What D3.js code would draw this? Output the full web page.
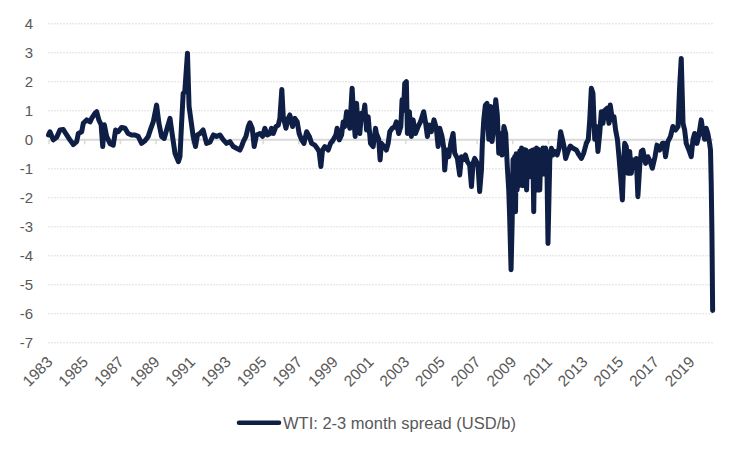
<!DOCTYPE html>
<html lang="en">
<head>
    <meta charset="UTF-8">
    <title>WTI 2-3 month spread</title>
    <script src="https://d3js.org/d3.v7.min.js"></script>
    <style>
        body {
            margin: 0;
            background: #fff;
        }
        svg text {
            font-family: "Liberation Sans", Arial, sans-serif;
            fill: #595959;
        }
    </style>
</head>
<body>
    <div id="chart"></div>
    <script>

        // dates as decimal years, values in USD/b
        var dates = [
            1983.00, 1983.08, 1983.27, 1983.46, 1983.64, 1983.83, 1984.02, 1984.20, 1984.39, 1984.58,
            1984.67, 1984.86, 1984.95, 1985.14, 1985.33, 1985.42, 1985.61, 1985.70, 1985.82, 1985.95,
            1986.04, 1986.13, 1986.26, 1986.45, 1986.63, 1986.76, 1986.91, 1987.10, 1987.29, 1987.46,
            1987.65, 1987.85, 1988.03, 1988.22, 1988.41, 1988.59, 1988.74, 1988.87, 1989.06, 1989.19,
            1989.34, 1989.49, 1989.62, 1989.81, 1989.94, 1990.09, 1990.28, 1990.37, 1990.46, 1990.55,
            1990.64, 1990.79, 1990.88, 1991.01, 1991.11, 1991.24, 1991.35, 1991.49, 1991.67, 1991.86,
            1992.05, 1992.24, 1992.42, 1992.61, 1992.80, 1992.98, 1993.17, 1993.36, 1993.54, 1993.73,
            1993.82, 1993.92, 1994.07, 1994.20, 1994.29, 1994.42, 1994.53, 1994.66, 1994.85, 1995.00,
            1995.13, 1995.26, 1995.41, 1995.50, 1995.60, 1995.75, 1995.88, 1995.97, 1996.08, 1996.16,
            1996.31, 1996.44, 1996.53, 1996.68, 1996.81, 1996.94, 1997.05, 1997.19, 1997.32, 1997.47,
            1997.62, 1997.75, 1997.93, 1998.06, 1998.17, 1998.27, 1998.36, 1998.49, 1998.68, 1998.81,
            1998.96, 1999.11, 1999.18, 1999.30, 1999.43, 1999.52, 1999.61, 1999.71, 1999.80, 1999.89,
            2000.02, 2000.12, 2000.19, 2000.27, 2000.36, 2000.45, 2000.55, 2000.64, 2000.73, 2000.83,
            2000.92, 2001.05, 2001.20, 2001.33, 2001.38, 2001.51, 2001.59, 2001.66, 2001.81, 2001.94,
            2002.04, 2002.13, 2002.26, 2002.41, 2002.50, 2002.63, 2002.75, 2002.82, 2002.90, 2002.97,
            2003.06, 2003.12, 2003.23, 2003.34, 2003.44, 2003.57, 2003.72, 2003.85, 2004.03, 2004.13,
            2004.24, 2004.33, 2004.46, 2004.61, 2004.74, 2004.84, 2004.93, 2005.06, 2005.16, 2005.21,
            2005.31, 2005.44, 2005.55, 2005.68, 2005.77, 2005.92, 2006.05, 2006.15, 2006.24, 2006.37,
            2006.48, 2006.61, 2006.71, 2006.80, 2006.89, 2006.99, 2007.08, 2007.17, 2007.27, 2007.32,
            2007.40, 2007.49, 2007.58, 2007.68, 2007.79, 2007.86, 2007.98, 2008.07, 2008.16, 2008.24,
            2008.33, 2008.42, 2008.53, 2008.63, 2008.72, 2008.80, 2008.85, 2008.93, 2008.99, 2009.04,
            2009.08, 2009.13, 2009.18, 2009.22, 2009.27, 2009.32, 2009.37, 2009.42, 2009.47, 2009.52,
            2009.58, 2009.64, 2009.70, 2009.76, 2009.80, 2009.86, 2009.92, 2009.98, 2010.04, 2010.10,
            2010.15, 2010.20, 2010.25, 2010.30, 2010.36, 2010.42, 2010.48, 2010.54, 2010.60, 2010.66,
            2010.72, 2010.80, 2010.86, 2010.93,
            2011.00, 2011.10, 2011.19, 2011.28, 2011.38, 2011.51, 2011.62, 2011.71, 2011.81, 2011.90,
            2011.99, 2012.12, 2012.25, 2012.40, 2012.59, 2012.74, 2012.87, 2013.00, 2013.15, 2013.26,
            2013.34, 2013.43, 2013.52, 2013.62, 2013.71, 2013.80, 2013.90, 2013.99, 2014.08, 2014.18,
            2014.31, 2014.42, 2014.49, 2014.61, 2014.70, 2014.79, 2014.89, 2014.98, 2015.07, 2015.17,
            2015.24, 2015.30, 2015.39, 2015.48, 2015.58, 2015.67, 2015.76, 2015.86, 2015.95, 2016.04,
            2016.14, 2016.23, 2016.32, 2016.47, 2016.60, 2016.73, 2016.85, 2017.00, 2017.11, 2017.26,
            2017.41, 2017.50, 2017.59, 2017.72, 2017.87, 2018.00, 2018.15, 2018.29, 2018.38, 2018.47,
            2018.57, 2018.66, 2018.75, 2018.90, 2019.03, 2019.13, 2019.22, 2019.35, 2019.46, 2019.59,
            2019.69, 2019.78, 2019.87, 2019.96, 2020.06, 2020.11, 2020.15, 2020.19, 2020.23
        ];

        var spread = [
            0.15, 0.26, -0.02, 0.07, 0.32, 0.34, 0.15, -0.02, -0.18, -0.08,
            0.2, 0.26, 0.55, 0.67, 0.6, 0.72, 0.9, 0.95, 0.67, 0.5,
            -0.25, 0.5, 0.1, -0.15, -0.2, 0.32, 0.26, 0.41, 0.38, 0.2,
            0.15, 0.15, 0.1, -0.14, -0.05, 0.1, 0.38, 0.6, 1.18, 0.55,
            0.1, 0.03, 0.32, 0.72, 0.15, -0.48, -0.77, -0.6, 0.55, 1.58,
            1.64, 2.97, 1.13, 0.55, 0.1, -0.25, 0.15, 0.2, 0.32, -0.14,
            -0.1, 0.15, 0.1, 0.15, -0.02, -0.14, -0.08, -0.25, -0.31, -0.37,
            -0.25, -0.08, 0.1, 0.44, 0.57, 0.38, -0.25, 0.15, 0.2, 0.1,
            0.38, 0.15, 0.2, 0.38, 0.2, 0.44, 0.49, 0.72, 1.72, 0.78,
            0.38, 0.72, 0.84, 0.44, 0.72, 0.61, 0.2, -0.02, -0.14, 0.26,
            0.1, -0.14, -0.2, -0.31, -0.42, -0.94, -0.37, -0.25, -0.37, -0.14,
            -0.02, 0.15, 0.38, -0.02, 0.15, 0.6, 0.44, 0.95, 0.84, 0.38,
            1.76, 0.67, 0.1, 1.24, 0.38, 0.2, 0.9, 0.78, 1.18, 0.32,
            0.78, -0.14, -0.25, 0.38, 0.2, 0, -0.71, -0.14, -0.25, -0.37,
            -0.14, 0.26, 0.38, 0.44, 0.6, 0.2, 0.44, 1.36, 1.0, 1.93,
            1.99, 0.2, 0.95, 0.1, 0.67, 0.2, 0.44, 0.6, 0.95, 0.6,
            0.1, 0.49, 0.26, 0.67, 0.38, -0.25, 0.38, 0.1, -0.31, -1.06,
            -0.37, -0.6, -0.14, 0.2, -0.48, -0.66, -1.23, -0.6, -0.71, -0.54,
            -0.77, -0.89, -1.63, -0.83, -0.66, -0.77, -0.94, -1.8, -1.06, -0.14,
            0.67, 1.18, 1.24, 0, 1.13, -0.08, 0.44, 1.36, 0.84, -0.48,
            0.2, -0.54, 0.44, 0.2, -0.94, -1.75, -2.67, -4.5, -2.9, -0.7,
            -2.2, -0.6, -2.5, -0.5, -1.75, -0.55, -1.6, -0.4, -1.5, -0.3,
            -1.6, -0.35, -1.0, -0.37, -1.75, -0.45, -0.43, -1.29, -0.4, -1.2,
            -0.37, -2.5, -0.35, -1.5, -0.3, -1.75, -0.35, -1.75, -0.4, -0.9,
            -0.3, -1.2, -0.3, -0.5,
            -3.59, -0.71, -0.31, -0.54, -0.42, -0.54, -0.31, 0.26, 0, -0.25,
            -0.66, -0.42, -0.23, -0.31, -0.37, -0.54, -0.66, -0.48, -0.14, 0,
            0.67, 1.76, 1.59, 0, 0.44, -0.42, 0.2, 0.95, 0.55, 1.0,
            1.07, 0.55, 1.18, 0.67, 0.78, 0.32, 0, -0.6, -1.29, -2.09,
            -0.83, -0.14, -0.25, -1.17, -0.42, -1.17, -0.71, -0.89, -0.66, -1.98,
            -0.94, -0.42, -0.37, -0.83, -0.6, -0.77, -1.0, -0.6, -0.2, -0.37,
            -0.14, -0.14, -0.6, -0.08, 0.1, 0.44, 0.32, 0.44, 1.82, 2.79,
            0.55, 0.32, -0.14, -0.37, -0.6, 0, 0.2, -0.14, 0.15, 0.67,
            0.26, 0, 0.38, 0.2, -0.14, -0.37, -1.5, -3.2, -5.9
        ];

        var yTicks = [4, 3, 2, 1, 0, -1, -2, -3, -4, -5, -6, -7];
        var yearTicks = d3.range(1983, 2020, 2);
        var seriesName = "WTI: 2-3 month spread (USD/b)";

        var width = 750,
            height = 450,
            plotLeft = 48.5,
            plotRight = 713,
            plotTop = 23.3,
            plotBottom = 342.3;

        var svg = d3.select("#chart").append("svg")
                    .attr("width", width)
                    .attr("height", height);

        var x = d3.scaleLinear()
                  .domain([1983, 2020.25])
                  .range([plotLeft, plotRight]);

        var y = d3.scaleLinear()
                  .domain([-7, 4])
                  .range([plotBottom, plotTop]);

        // dotted gridlines, zero line is solid
        svg.append("g")
           .selectAll("line")
           .data(yTicks.filter(d => d !== 0))
           .join("line")
           .attr("x1", plotLeft)
           .attr("x2", plotRight)
           .attr("y1", d => y(d) + 0.5)
           .attr("y2", d => y(d) + 0.5)
           .attr("stroke", "#bfbfbf")
           .attr("stroke-width", 1)
           .attr("stroke-dasharray", "1,2");

        // y labels
        svg.append("g")
           .selectAll("text")
           .data(yTicks)
           .join("text")
           .attr("x", 33)
           .attr("y", d => y(d))
           .attr("dy", "0.36em")
           .attr("text-anchor", "end")
           .style("font-size", "15px")
           .text(d => d);

        // zero axis with ticks
        var xAxis = d3.axisBottom(x)
                      .tickValues(yearTicks)
                      .tickSize(5)
                      .tickSizeOuter(0)
                      .tickFormat("");

        var axisG = svg.append("g")
           .attr("transform", `translate(0,${y(0)})`)
           .call(xAxis);
        axisG.select(".domain").attr("stroke", "#d9d9d9").attr("stroke-width", 2);
        axisG.selectAll(".tick line").attr("stroke", "#d9d9d9").attr("stroke-width", 1.5);

        // year labels at the bottom, rotated
        svg.append("g")
           .selectAll("text")
           .data(yearTicks)
           .join("text")
           .attr("transform", d => `translate(${x(d) + 5},363) rotate(-45)`)
           .attr("text-anchor", "end")
           .style("font-size", "15.5px")
           .text(d => d);

        // the series
        var points = dates.map((d, i) => [d, spread[i]]);

        var line = d3.line()
                     .x(d => x(d[0]))
                     .y(d => y(d[1]));

        svg.append("path")
           .datum(points)
           .attr("d", line)
           .attr("fill", "none")
           .attr("stroke", "#0e1e45")
           .attr("stroke-width", 5)
           .attr("stroke-linejoin", "round")
           .attr("stroke-linecap", "round");

        // legend
        var legend = svg.append("g")
                        .attr("transform", "translate(237,422.7)");

        legend.append("line")
              .attr("x1", 2)
              .attr("x2", 42)
              .attr("stroke", "#0e1e45")
              .attr("stroke-width", 4.5)
              .attr("stroke-linecap", "round");

        legend.append("text")
              .attr("x", 46)
              .attr("dy", "0.36em")
              .style("font-size", "16.5px")
              .text(seriesName);

    </script>
</body>
</html>
